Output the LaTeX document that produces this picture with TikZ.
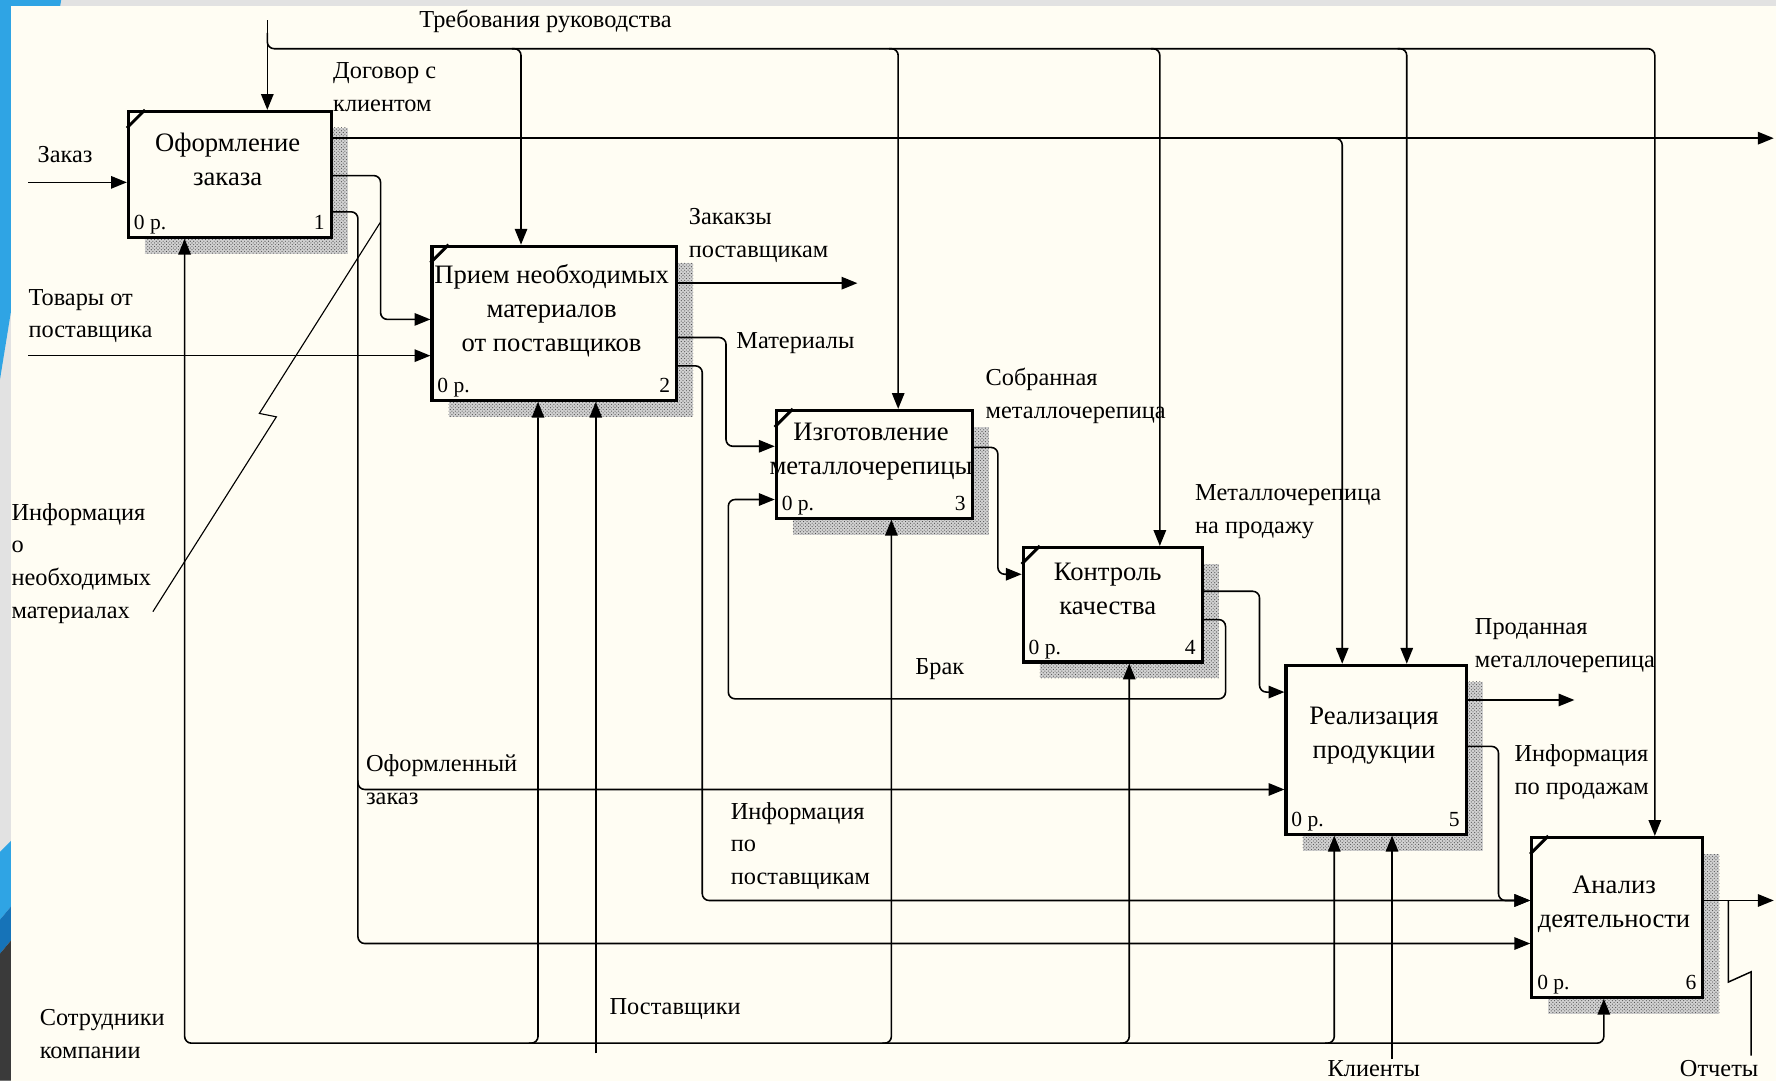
\documentclass[tikz,border=0pt]{standalone}
\usepackage{fontspec}
\setmainfont{Liberation Serif}
\usetikzlibrary{arrows.meta,patterns}

\definecolor{paper}{HTML}{FFFDF3}
\definecolor{slideblue}{HTML}{2FA4E4}
\definecolor{deepblue}{HTML}{1673B8}
\definecolor{slidegray}{HTML}{E2E2E2}
\definecolor{slidedark}{HTML}{3A3A3A}

% IDEF0 function block: name, left, top, width, height, number
\newcommand\idefblock[6]{%
  \fill[blockshadow] (#2+16,#3+16) rectangle (#2+#4+16,#3+#5+16);
  \node[fblock, minimum width=#4pt, minimum height=#5pt, anchor=north west] (#1) at (#2,#3) {};
  \node[cost, anchor=base west] (#1-cost) at ([shift={(6,-8)}]#1.south west) {0 р.};
  \node[cost, anchor=base east] (#1-num) at ([shift={(-7,-8)}]#1.south east) {#6};
}
% tunnel corner mark of a block
\newcommand\idefcorner[1]{%
  \draw[line width=2.6pt] ([shift={(0,16)}]#1.north west) -- ([shift={(16,0)}]#1.north west);
}

\begin{document}
\begin{tikzpicture}[x=1pt,y=-1pt,
  fblock/.style={draw=black, line width=2.8pt, fill=paper, inner sep=0pt, rectangle},
  blockshadow/.style={fill=black!18, postaction={pattern=crosshatch dots, pattern color=black!70}},
  cost/.style={font=\fontsize{19}{22}\selectfont, inner sep=0pt},
  btxt/.style={font=\fontsize{23.5}{30}\selectfont, align=center, anchor=north, inner sep=0pt, execute at begin node=\strut},
  lbl/.style={font=\fontsize{21.5}{29}\selectfont, align=left, anchor=north west, inner sep=0pt, execute at begin node=\strut},
  conn/.style={draw=black, line width=1.4pt},
  tip/.tip={Triangle[length=14pt,width=11pt]},
  arr/.style={-tip},
  rc/.style={rounded corners=6pt},
  squiggle/.style={draw=black, line width=1pt}]

\useasboundingbox (0,0) rectangle (1568,954);

% slide frame and drawing sheet
\fill[slidegray] (0,0) rectangle (1568,954);
\fill[slideblue] (0,0) -- (54,0) -- (0,335) -- cycle;
\fill[slideblue] (0,752) -- (10,742) -- (10,800) -- (0,812) -- cycle;
\fill[deepblue] (0,812) -- (10,800) -- (10,830) -- (0,842) -- cycle;
\fill[slidedark] (0,842) -- (10,830) -- (10,954) -- (0,954) -- cycle;
\fill[paper] (10,5) rectangle (1568,954);

% function blocks
\idefblock{b1}{112}{97}{179}{111}{1}
\idefblock{b2}{380}{216}{216}{136}{2}
\idefblock{b3}{684}{361}{173}{95}{3}
\idefblock{b4}{902}{482}{158}{101}{4}
\idefblock{b5}{1134}{586}{159}{149}{5}
\idefblock{b6}{1351}{738}{151}{141}{6}
\idefcorner{b1}
\idefcorner{b2}
\idefcorner{b3}
\idefcorner{b4}
\idefcorner{b6}

\node[btxt] (b1-t) at (201,117) {Оформление\\заказа};
\node[btxt] (b2-t) at (487,233) {Прием необходимых\\материалов\\от поставщиков};
\node[btxt] (b3-t) at (769,373) {Изготовление\\металлочерепицы};
\node[btxt] (b4-t) at (978,497) {Контроль\\качества};
\node[btxt] (b5-t) at (1213,624) {Реализация\\продукции};
\node[btxt] (b6-t) at (1425,773) {Анализ\\деятельности};

% control: management requirements
\coordinate (req) at (236,18);
\coordinate (reqbus) at (236,43);
\coordinate (c2) at (460,43);
\coordinate (c3) at (793,43);
\coordinate (c4) at (1024,43);
\coordinate (c5) at (1242,43);
\coordinate (c6) at (1461,43);
\draw[conn,arr] (req) -- (req |- b1.north);
\draw[conn,arr,rc] ([shift={(0,-14)}]reqbus) -- (reqbus) -- (c6) -- (c6 |- b6.north);
\draw[conn,arr,rc] ([shift={(-8,0)}]c2) -- (c2) -- (c2 |- b2.north);
\draw[conn,arr,rc] ([shift={(-8,0)}]c3) -- (c3) -- (c3 |- b3.north);
\draw[conn,arr,rc] ([shift={(-8,0)}]c4) -- (c4) -- (c4 |- b4.north);
\draw[conn,arr,rc] ([shift={(-8,0)}]c5) -- (c5) -- (c5 |- b5.north);

% contract with the client
\coordinate (dogend) at (1566,122);
\coordinate (d5) at (1185,122);
\draw[conn,arr] ([shift={(0,25)}]b1.north east) -- (dogend);
\draw[conn,arr,rc] ([shift={(-8,0)}]d5) -- (d5) -- (d5 |- b5.north);

% inputs from the left
\coordinate (zak) at (25,161);
\coordinate (tov) at (25,314);
\draw[conn,arr] (zak) -- (zak -| b1.west);
\draw[conn,arr] (tov) -- (tov -| b2.west);

% block 1 outputs
\coordinate (k12) at (336,282);
\draw[conn,arr,rc] ([shift={(0,58)}]b1.north east) coordinate (o12) -- (o12 -| k12) -- (k12) -- (k12 -| b2.west);
\coordinate (k16) at (316,833);
\coordinate (k15) at (316,697);
\draw[conn,arr,rc] ([shift={(0,90)}]b1.north east) coordinate (o16) -- (o16 -| k16) -- (k16) -- (k16 -| b6.west);
\draw[conn,arr,rc] ([shift={(0,-8)}]k15) -- (k15) -- (k15 -| b5.west);

% information on required materials (callout)
\coordinate (inf0) at (135,540);
\coordinate (inf1) at (244,368);
\coordinate (inf2) at (229,365);
\coordinate (inf3) at (336,196);
\draw[squiggle] (inf0) -- (inf1) -- (inf2) -- (inf3);

% block 2 outputs
\coordinate (zp) at (757,250);
\draw[conn,arr] (zp -| b2.east) -- (zp);
\coordinate (k23) at (641,394);
\draw[conn,arr,rc] ([shift={(0,82)}]b2.north east) coordinate (o23) -- (o23 -| k23) -- (k23) -- (k23 -| b3.west);
\coordinate (k26) at (620,795);
\draw[conn,arr,rc] ([shift={(0,107)}]b2.north east) coordinate (o26) -- (o26 -| k26) -- (k26) -- (k26 -| b6.west);

% block 3 output
\coordinate (k34) at (881,507);
\draw[conn,arr,rc] ([shift={(0,34)}]b3.north east) coordinate (o34) -- (o34 -| k34) -- (k34) -- (k34 -| b4.west);

% rejects back to block 3
\coordinate (br1) at (1082,617);
\coordinate (br2) at (643,441);
\draw[conn,arr,rc] ([shift={(0,65)}]b4.north east) coordinate (o43) -- (o43 -| br1) -- (br1) -- (br1 -| br2) -- (br2) -- (br2 -| b3.west);

% block 4 output
\coordinate (k45) at (1112,611);
\draw[conn,arr,rc] ([shift={(0,40)}]b4.north east) coordinate (o45) -- (o45 -| k45) -- (k45) -- (k45 -| b5.west);

% block 5 outputs
\coordinate (sold) at (1390,618);
\draw[conn,arr] (sold -| b5.east) -- (sold);
\coordinate (k56) at (1323,795);
\draw[conn,arr,rc] ([shift={(0,73)}]b5.north east) coordinate (o56) -- (o56 -| k56) -- (k56) -- (k56 -| b6.west);

% block 6 output
\coordinate (rep) at (1566,795);
\draw[conn,arr] (rep -| b6.east) -- (rep);
\coordinate (rep0) at (1526,795);
\coordinate (rep1) at (1526,867);
\coordinate (rep2) at (1546,858);
\coordinate (rep3) at (1546,932);
\draw[squiggle, line width=1.3pt] (rep0) -- (rep1) -- (rep2) -- (rep3);

% mechanisms
\coordinate (m1) at (163,921);
\coordinate (m6) at (1416,921);
\draw[conn,rc,tip-tip] (m1 |- b1.south) -- (m1) -- (m6) -- (m6 |- b6.south);
\coordinate (m2) at (475,921);
\coordinate (m3) at (787,921);
\coordinate (m4) at (997,921);
\coordinate (m5) at (1178,921);
\draw[conn,arr,rc] ([shift={(-8,0)}]m2) -- (m2) -- (m2 |- b2.south);
\draw[conn,arr,rc] ([shift={(-8,0)}]m3) -- (m3) -- (m3 |- b3.south);
\draw[conn,arr,rc] ([shift={(-8,0)}]m4) -- (m4) -- (m4 |- b4.south);
\draw[conn,arr,rc] ([shift={(-8,0)}]m5) -- (m5) -- (m5 |- b5.south);
\coordinate (sup) at (526,930);
\draw[conn,arr] (sup) -- (sup |- b2.south);
\coordinate (cli) at (1229,935);
\draw[conn,arr] (cli) -- (cli |- b5.south);

% arrow labels
\node[lbl] (l-req) at (370,4) {Требования руководства};
\node[lbl] (l-dog) at (294,55) {Договор с\\клиентом};
\node[lbl] (l-zak) at (33,123) {Заказ};
\node[lbl] (l-tov) at (25,255) {Товары от\\поставщика};
\node[lbl] (l-inf) at (10,444) {Информация\\о\\необходимых\\материалах};
\node[lbl] (l-zp) at (608,184) {Закакзы\\поставщикам};
\node[lbl] (l-mat) at (650,287) {Материалы};
\node[lbl] (l-sob) at (870,325) {Собранная\\металлочерепица};
\node[lbl] (l-prod) at (1055,428) {Металлочерепица\\на продажу};
\node[lbl] (l-brak) at (808,575) {Брак};
\node[lbl] (l-sold) at (1302,546) {Проданная\\металлочерепица};
\node[lbl] (l-infs) at (1337,657) {Информация\\по продажам};
\node[lbl] (l-ofz) at (323,666) {Оформленный\\заказ};
\node[lbl] (l-infp) at (645,708) {Информация\\по\\поставщикам};
\node[lbl] (l-sup) at (538,875) {Поставщики};
\node[lbl] (l-staff) at (35,891) {Сотрудники\\компании};
\node[lbl] (l-cli) at (1172,930) {Клиенты};
\node[lbl] (l-rep) at (1483,930) {Отчеты};
\end{tikzpicture}
\end{document}
